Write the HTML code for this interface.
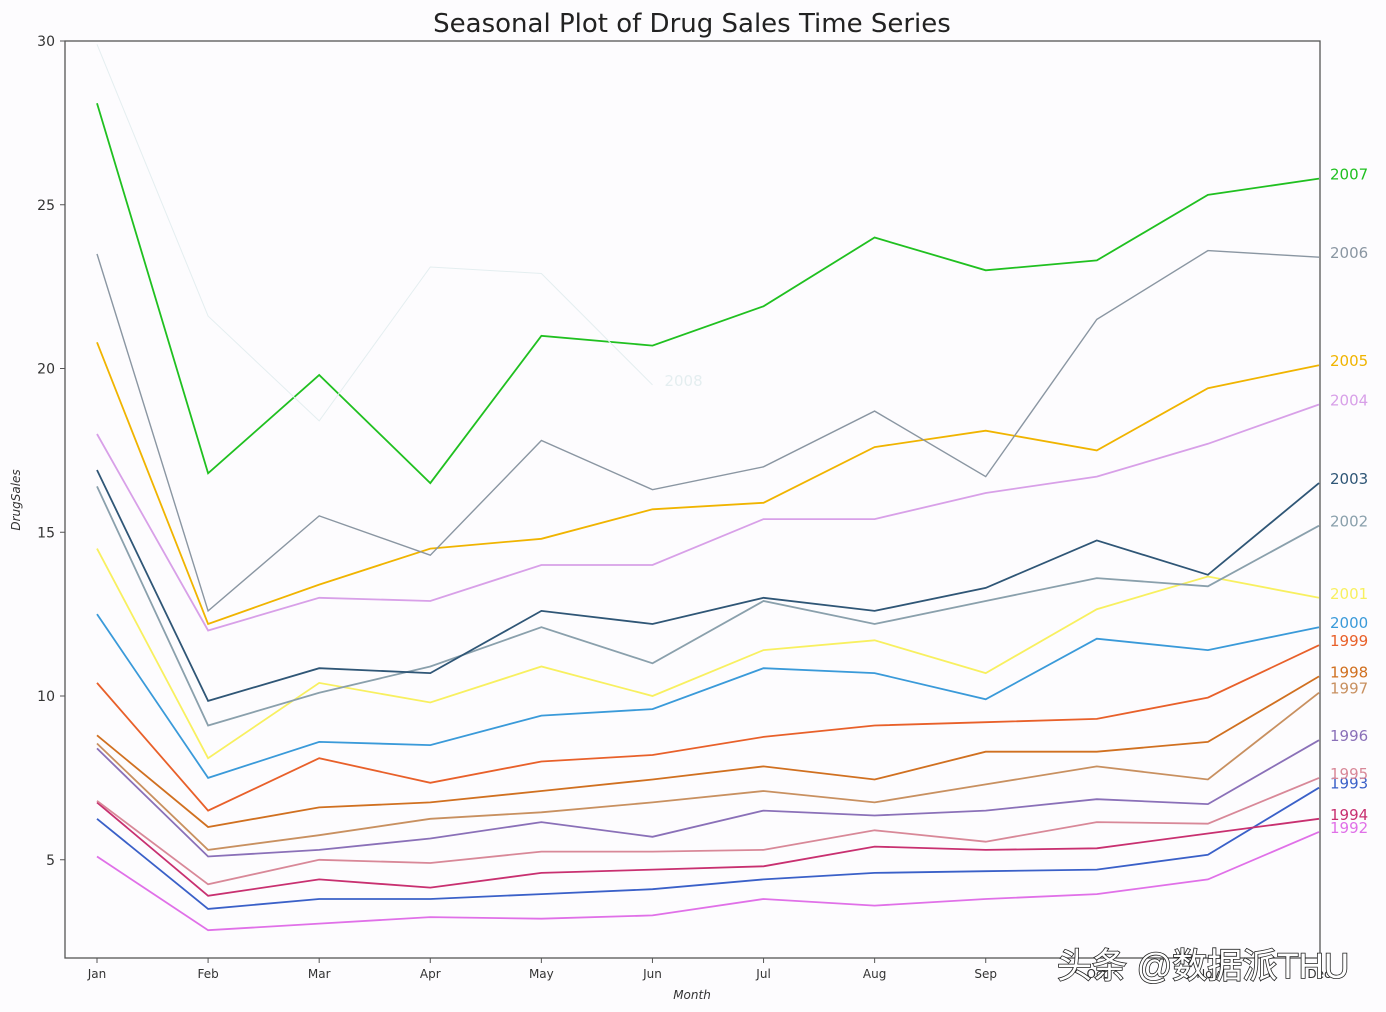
<!DOCTYPE html>
<html><head><meta charset="utf-8"><style>
body{margin:0;background:#fdfcfe;}
svg{display:block;font-family:"DejaVu Sans","Liberation Sans",sans-serif;}
</style></head><body>
<svg id="chart" width="1386" height="1012" viewBox="0 0 1386 1012" xmlns="http://www.w3.org/2000/svg">
<rect x="0" y="0" width="1386" height="1012" fill="#fdfcfe"/>
<text x="692" y="32" text-anchor="middle" font-size="26" fill="#222">Seasonal Plot of Drug Sales Time Series</text>
<g id="plot"></g>
<text x="692" y="999" text-anchor="middle" font-size="12" font-style="italic" fill="#333">Month</text>
<text transform="translate(20,500) rotate(-90)" text-anchor="middle" font-size="12" font-style="italic" fill="#333">DrugSales</text>
<text x="1057" y="978" font-size="35" fill="#fff" stroke="#222" stroke-width="1.6" paint-order="stroke" font-family="'Liberation Sans','Noto Sans CJK SC',sans-serif">头条 @数据派THU</text>
</svg>
<script>
const months=["Jan","Feb","Mar","Apr","May","Jun","Jul","Aug","Sep","Oct","Nov","Dec"];
const yTicks=[5,10,15,20,25,30];
const years=["1992","1993","1994","1995","1996","1997","1998","1999","2000","2001","2002","2003","2004","2005","2006","2007","2008"];
const colors=["#e070e8","#3a60c8","#c83070","#d88898","#8a70b8","#c89060","#d07020","#e8602a","#3a9ad9","#f8f060","#8aa0ac","#2f5676","#d8a0e8","#f0b400","#8a96a2","#20c020","#e4eef0"];
const s1992=[5.1,2.85,3.05,3.25,3.2,3.3,3.8,3.6,3.8,3.95,4.4,5.85];
const s1993=[6.25,3.5,3.8,3.8,3.95,4.1,4.4,4.6,4.65,4.7,5.15,7.2];
const s1994=[6.75,3.9,4.4,4.15,4.6,4.7,4.8,5.4,5.3,5.35,5.8,6.25];
const s1995=[6.8,4.25,5.0,4.9,5.25,5.25,5.3,5.9,5.55,6.15,6.1,7.5];
const s1996=[8.4,5.1,5.3,5.65,6.15,5.7,6.5,6.35,6.5,6.85,6.7,8.65];
const s1997=[8.55,5.3,5.75,6.25,6.45,6.75,7.1,6.75,7.3,7.85,7.45,10.1];
const s1998=[8.8,6.0,6.6,6.75,7.1,7.45,7.85,7.45,8.3,8.3,8.6,10.6];
const s1999=[10.4,6.5,8.1,7.35,8.0,8.2,8.75,9.1,9.2,9.3,9.95,11.55];
const s2000=[12.5,7.5,8.6,8.5,9.4,9.6,10.85,10.7,9.9,11.75,11.4,12.1];
const s2001=[14.5,8.1,10.4,9.8,10.9,10.0,11.4,11.7,10.7,12.65,13.65,13.0];
const s2002=[16.4,9.1,10.1,10.9,12.1,11.0,12.9,12.2,12.9,13.6,13.35,15.2];
const s2003=[16.9,9.85,10.85,10.7,12.6,12.2,13.0,12.6,13.3,14.75,13.7,16.5];
const s2004=[18.0,12.0,13.0,12.9,14.0,14.0,15.4,15.4,16.2,16.7,17.7,18.9];
const s2005=[20.8,12.2,13.4,14.5,14.8,15.7,15.9,17.6,18.1,17.5,19.4,20.1];
const s2006=[23.5,12.6,15.5,14.3,17.8,16.3,17.0,18.7,16.7,21.5,23.6,23.4];
const s2007=[28.1,16.8,19.8,16.5,21.0,20.7,21.9,24.0,23.0,23.3,25.3,25.8];
const s2008=[29.9,21.6,18.4,23.1,22.9,19.5];
const series=[s1992,s1993,s1994,s1995,s1996,s1997,s1998,s1999,s2000,s2001,s2002,s2003,s2004,s2005,s2006,s2007,s2008];

const NS="http://www.w3.org/2000/svg";
const L=65,R=1320,T=41,B=958,yMin=2,yMax=30;
const xS=i=>97+i*(1319-97)/11;
const yS=v=>B-(v-yMin)/(yMax-yMin)*(B-T);
const g=document.getElementById('plot');
function mk(tag,attrs){const e=document.createElementNS(NS,tag);for(const k in attrs)e.setAttribute(k,attrs[k]);g.appendChild(e);return e;}
let fr=mk('rect',{x:L,y:T,width:R-L,height:B-T,fill:'none',stroke:'#555','stroke-width':1.3});


yTicks.forEach(v=>{
  let t=mk('line',{x1:L-5,x2:L,y1:yS(v),y2:yS(v),stroke:'#555'});
  
  
  let tx=mk('text',{x:L-10,y:yS(v)+5,'text-anchor':'end','font-size':14,fill:'#333'});
  tx.textContent=v;
  
  
});
months.forEach((m,i)=>{
  let t=mk('line',{x1:xS(i),x2:xS(i),y1:B,y2:B+5,stroke:'#555'});
  
  
  let tx=mk('text',{x:xS(i),y:B+20,'text-anchor':'middle','font-size':12,fill:'#333'});
  tx.textContent=m;
  
  
});
series.forEach((s,k)=>{
  const d=s.map((v,i)=>(i?'L':'M')+xS(i).toFixed(1)+','+yS(v).toFixed(1)).join(' ');
  let p=mk('path',{d:d,fill:'none',stroke:colors[k],'stroke-width':k==16?1:(k==14?1.4:1.8)});
  
  
  const last=s.length-1;
  let lx=last==11?1330:xS(last)+12;
  let tx=mk('text',{x:lx,y:yS(s[last])+1,'font-size':15,fill:colors[k]});
  tx.textContent=years[k];
  
  
});
</script>
</body></html>
